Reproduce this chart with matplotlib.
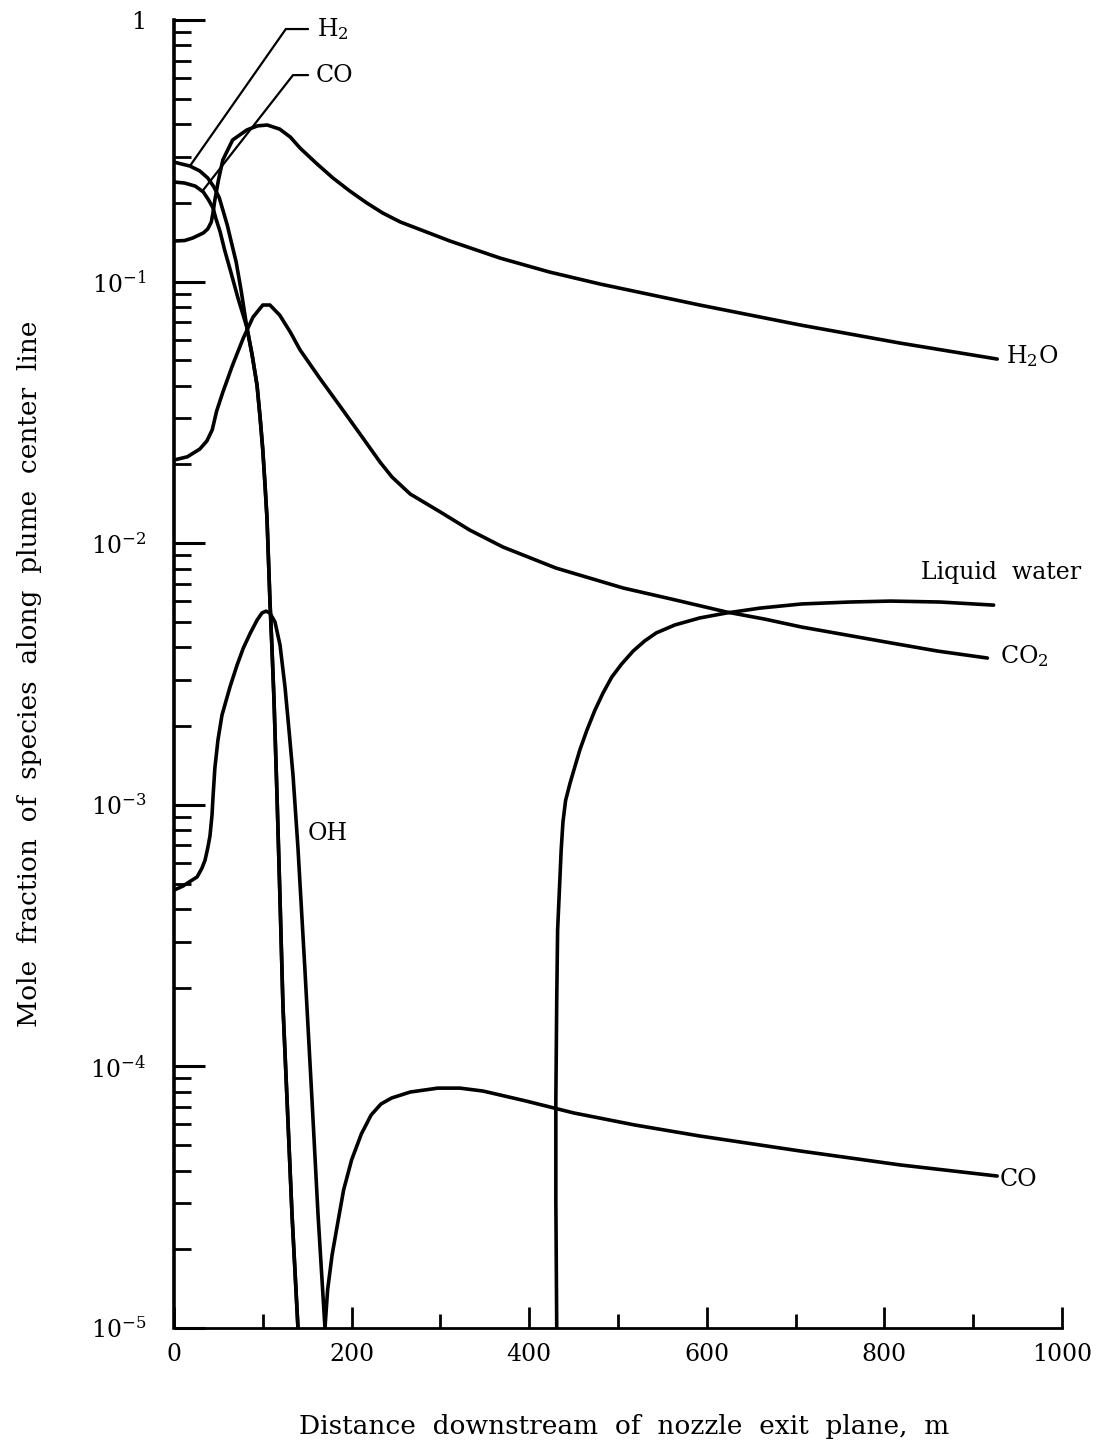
import matplotlib.pyplot as plt

plt.rcParams['font.family'] = 'DejaVu Serif'
plt.rcParams['mathtext.fontset'] = 'dejavuserif'

# distance downstream (m) and mole fraction
h2o_x = [0, 12, 21, 33, 38, 42, 44, 46, 50, 55, 66, 82, 94, 105, 119, 131, 142, 161, 179, 198,
         217, 235, 255, 311, 367, 423, 480, 592, 705, 818, 927]
h2o_y = [0.143, 0.1436, 0.1468, 0.1535, 0.159, 0.169, 0.1845, 0.205, 0.244, 0.292, 0.348, 0.380,
         0.394, 0.397, 0.383, 0.357, 0.324, 0.282, 0.249, 0.222, 0.200, 0.183, 0.169, 0.1429,
         0.1231, 0.1088, 0.0979, 0.0814, 0.0683, 0.0582, 0.0506]

# H2 and CO fall together once past x ~ 80 m
drop_x = [82, 88, 93.5, 97, 100, 102.5, 104.7, 106, 108, 110.4, 112.6, 116, 119.4, 122.7, 127.3,
          132.9, 139.6]
drop_y = [0.067, 0.0524, 0.0402, 0.0301, 0.0227, 0.0167, 0.01248, 0.00942, 0.00607, 0.00391,
          0.00252, 0.00108, 4.33e-4, 1.70e-4, 7.44e-5, 2.71e-5, 1.0e-5]

h2_x = [0, 18, 29, 38, 45, 51, 55, 60, 64, 70, 75.5] + drop_x
h2_y = [0.2864, 0.2766, 0.265, 0.249, 0.230, 0.209, 0.188, 0.1644, 0.1442, 0.1188, 0.0929] + drop_y

co_x = [0, 12, 24, 33, 39, 44, 47, 52, 57, 64, 72] + drop_x
co_y = [0.2404, 0.2382, 0.2318, 0.2202, 0.2051, 0.1911, 0.175, 0.1548, 0.1321, 0.1088,
        0.0866] + drop_y

co_far_x = [170, 173, 178, 184, 191, 200, 211, 222, 233, 245, 266, 297, 322, 348, 396, 450, 519,
            592, 705, 818, 927]
co_far_y = [1.0e-5, 1.40e-5, 1.90e-5, 2.48e-5, 3.37e-5, 4.39e-5, 5.52e-5, 6.52e-5, 7.18e-5,
            7.57e-5, 7.98e-5, 8.26e-5, 8.26e-5, 8.05e-5, 7.38e-5, 6.64e-5, 5.97e-5, 5.42e-5,
            4.75e-5, 4.20e-5, 3.81e-5]

oh_x = [0, 10, 19, 26, 31.5, 35, 38, 40.5, 42.8, 44, 46, 49.5, 54, 63, 71, 78, 86, 93.5, 99,
        103.6, 108, 113.7, 119.4, 125, 129.5, 134, 139.6, 147.5, 155.4, 162.2, 170]
oh_y = [4.72e-4, 4.89e-4, 5.12e-4, 5.30e-4, 5.73e-4, 6.15e-4, 6.84e-4, 7.60e-4, 9.14e-4, 1.08e-3,
        1.38e-3, 1.77e-3, 2.20e-3, 2.82e-3, 3.42e-3, 3.97e-3, 4.54e-3, 5.08e-3, 5.41e-3, 5.50e-3,
        5.41e-3, 5.00e-3, 4.08e-3, 2.82e-3, 1.93e-3, 1.30e-3, 6.84e-4, 2.32e-4, 7.44e-5, 2.71e-5,
        1.0e-5]

co2_x = [0, 15, 29, 37, 43, 48, 55, 66, 78, 89, 100, 108, 119, 131, 142, 164, 187, 209.5, 232,
         245.5, 266, 300, 333, 370.5, 430, 506, 560, 622, 665, 707, 757, 807, 860, 916]
co2_y = [0.0208, 0.0214, 0.0229, 0.0246, 0.0271, 0.032, 0.0378, 0.048, 0.0608, 0.0732, 0.0814,
         0.0814, 0.0745, 0.0641, 0.0548, 0.0428, 0.0334, 0.02615, 0.02043, 0.01791, 0.01542,
         0.01316, 0.01123, 0.00967, 0.00804, 0.00674, 0.00612, 0.00546, 0.00513, 0.00478,
         0.00446, 0.00416, 0.00387, 0.00364]

liq_x = [431, 430, 430, 431, 432, 434, 436, 438, 441, 446, 452, 457, 465, 474, 483, 493, 504, 517,
         530, 543, 564, 592, 622, 660, 707, 761, 807, 863, 923]
liq_y = [1.0e-5, 3.08e-5, 7.44e-5, 1.79e-4, 3.32e-4, 4.72e-4, 6.71e-4, 8.59e-4, 1.04e-3, 1.21e-3,
         1.42e-3, 1.62e-3, 1.93e-3, 2.30e-3, 2.67e-3, 3.08e-3, 3.45e-3, 3.87e-3, 4.23e-3, 4.54e-3,
         4.87e-3, 5.18e-3, 5.41e-3, 5.65e-3, 5.86e-3, 5.96e-3, 6.01e-3, 5.96e-3, 5.80e-3]

y_ticks = [1e-5, 1e-4, 1e-3, 1e-2, 1e-1, 1]
y_labels = ['$10^{-5}$', '$10^{-4}$', '$10^{-3}$', '$10^{-2}$', '$10^{-1}$', '1']
x_ticks = [0, 200, 400, 600, 800, 1000]

fig = plt.figure(figsize=(11.02, 14.43), dpi=100)
ax = fig.add_axes([0.1579, 0.0797, 0.8058, 0.9064])
ax.set_yscale('log')

lw = 2.6
for xs, ys in [(h2o_x, h2o_y), (h2_x, h2_y), (co_x, co_y), (co_far_x, co_far_y),
               (oh_x, oh_y), (co2_x, co2_y), (liq_x, liq_y)]:
    ax.plot(xs, ys, color='black', lw=lw, solid_capstyle='round', solid_joinstyle='round')

ax.set_xlim(0, 1000)
ax.set_ylim(1e-5, 1)

for s in ['top', 'right']:
    ax.spines[s].set_visible(False)
ax.spines['left'].set_linewidth(2.6)
ax.spines['bottom'].set_linewidth(2.0)
ax.spines['left'].set_bounds(1e-5, 1)
ax.spines['bottom'].set_bounds(30, 1000)

ax.set_yticks(y_ticks, labels=y_labels)
ax.set_xticks(x_ticks)
ax.set_xticks([100, 300, 500, 700, 900], minor=True)
ax.tick_params(axis='y', which='major', direction='in', length=22, width=2.2, pad=20, labelsize=17)
ax.tick_params(axis='y', which='minor', direction='in', length=12, width=2.0)
ax.tick_params(axis='x', which='major', direction='in', length=15, width=2.0, pad=11, labelsize=17)
ax.tick_params(axis='x', which='minor', direction='in', length=10, width=2.0)

ax.set_xlabel('Distance  downstream  of  nozzle  exit  plane,  m', fontsize=19)
ax.xaxis.set_label_coords(0.507, -0.066)
ax.set_ylabel('Mole  fraction  of  species  along  plume  center  line', fontsize=19)
ax.yaxis.set_label_coords(-0.149, 0.5)

# curve labels
ax.text(937, 0.052, 'H$_2$O', fontsize=17, va='center')
ax.text(1022, 0.0077, 'Liquid  water', fontsize=17, va='center', ha='right')
ax.text(930, 0.0037, 'CO$_2$', fontsize=17, va='center')
ax.text(150, 7.8e-4, 'OH', fontsize=17, va='center')
ax.text(930, 3.7e-5, 'CO', fontsize=17, va='center')
ax.text(161, 0.92, 'H$_2$', fontsize=17, va='center')
ax.text(160, 0.616, 'CO', fontsize=17, va='center')

# leader lines for the H2 and CO labels at the top left
leader = dict(arrowstyle='-', connectionstyle='angle,angleA=0,angleB=55,rad=0',
              shrinkA=0, shrinkB=0, lw=1.6, color='black')
ax.annotate('', xy=(18, 0.277), xytext=(151, 0.924), arrowprops=leader)
ax.annotate('', xy=(32, 0.222), xytext=(151, 0.616),
            arrowprops=dict(leader, connectionstyle='angle,angleA=0,angleB=52,rad=0'))

fig.savefig('out.png', dpi=100, facecolor='white')
